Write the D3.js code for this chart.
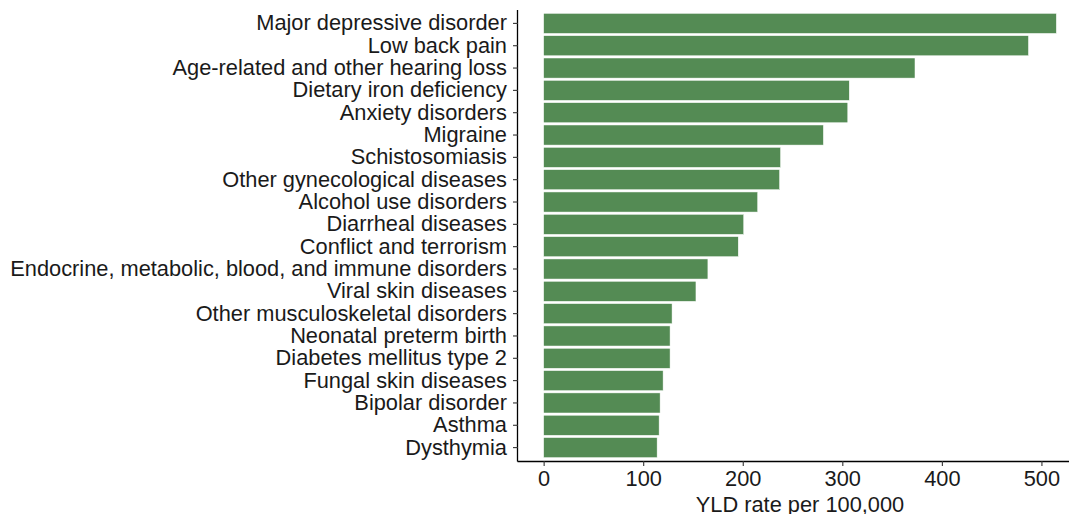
<!DOCTYPE html>
<html>
<head>
<meta charset="utf-8">
<script src="https://cdn.jsdelivr.net/npm/d3@7"></script>
<style>
  body { margin: 0; background: #fff; }
  svg { display: block; }
  text { font-family: "Liberation Sans", Arial, sans-serif; }
</style>
</head>
<body>
<div id="chart-area"></div>
<script>
// cause names, top to bottom
const causes = [
  "Major depressive disorder",
  "Low back pain",
  "Age-related and other hearing loss",
  "Dietary iron deficiency",
  "Anxiety disorders",
  "Migraine",
  "Schistosomiasis",
  "Other gynecological diseases",
  "Alcohol use disorders",
  "Diarrheal diseases",
  "Conflict and terrorism",
  "Endocrine, metabolic, blood, and immune disorders",
  "Viral skin diseases",
  "Other musculoskeletal disorders",
  "Neonatal preterm birth",
  "Diabetes mellitus type 2",
  "Fungal skin diseases",
  "Bipolar disorder",
  "Asthma",
  "Dysthymia"
]
// YLD rate per 100,000
const yldRate = [515, 487, 373, 307, 305.5, 281, 238, 237, 215, 201,
  195.5, 165, 153, 129, 127, 127, 120, 117, 116, 114]
const xTicks = [0, 100, 200, 300, 400, 500]
const xTitle = "YLD rate per 100,000"

const data = causes.map((c, i) => ({ cause: c, value: yldRate[i] }))

const W = 1069, H = 514
const PANEL = { LEFT: 518, RIGHT: 1082, TOP: 10, BOTTOM: 461 }
const FONT = 21.8

const svg = d3.select("#chart-area").append("svg")
  .attr("width", W)
  .attr("height", H)

// scales (ggplot style 5% expansion on x, 0.6 band on y)
const maxV = d3.max(yldRate)
const x = d3.scaleLinear()
  .domain([-0.05 * maxV, maxV * 1.05])
  .range([PANEL.LEFT, PANEL.RIGHT])

const y = d3.scaleBand()
  .domain(causes)
  .range([PANEL.TOP, PANEL.BOTTOM])
  .paddingInner(0.1)
  .paddingOuter(0.15)

// bars
svg.append("g").selectAll("rect")
  .data(data)
  .enter().append("rect")
  .attr("x", x(0))
  .attr("y", d => y(d.cause))
  .attr("width", d => x(d.value) - x(0))
  .attr("height", y.bandwidth())
  .attr("fill", "#548B54")
  .attr("stroke", "#ffffff")
  .attr("stroke-width", 0.5)

// axes
const xAxis = svg.append("g")
  .attr("transform", `translate(0, ${PANEL.BOTTOM})`)
  .call(d3.axisBottom(x).tickValues(xTicks).tickSize(5).tickPadding(5).tickSizeOuter(0))
const yAxis = svg.append("g")
  .attr("transform", `translate(${PANEL.LEFT}, 0)`)
  .call(d3.axisLeft(y).tickSize(5).tickPadding(6).tickSizeOuter(0))

xAxis.select(".domain").attr("d", `M${PANEL.LEFT - 0.5},0.5H${PANEL.RIGHT}`)
yAxis.select(".domain").attr("d", `M-0.5,${PANEL.TOP}V${PANEL.BOTTOM + 0.5}`)

svg.selectAll(".domain")
  .attr("stroke", "#000")
  .attr("stroke-width", 1.3)
svg.selectAll(".tick line")
  .attr("stroke", "#333")
  .attr("stroke-width", 1.1)
svg.selectAll(".tick text")
  .attr("font-size", FONT)
  .attr("font-family", "Liberation Sans, Arial, sans-serif")
  .attr("fill", "#1a1a1a")

// x-axis title
svg.append("text")
  .attr("x", (PANEL.LEFT + PANEL.RIGHT) / 2)
  .attr("y", 512)
  .attr("text-anchor", "middle")
  .attr("font-size", FONT)
  .attr("fill", "#1a1a1a")
  .text(xTitle)
</script>
</body>
</html>
